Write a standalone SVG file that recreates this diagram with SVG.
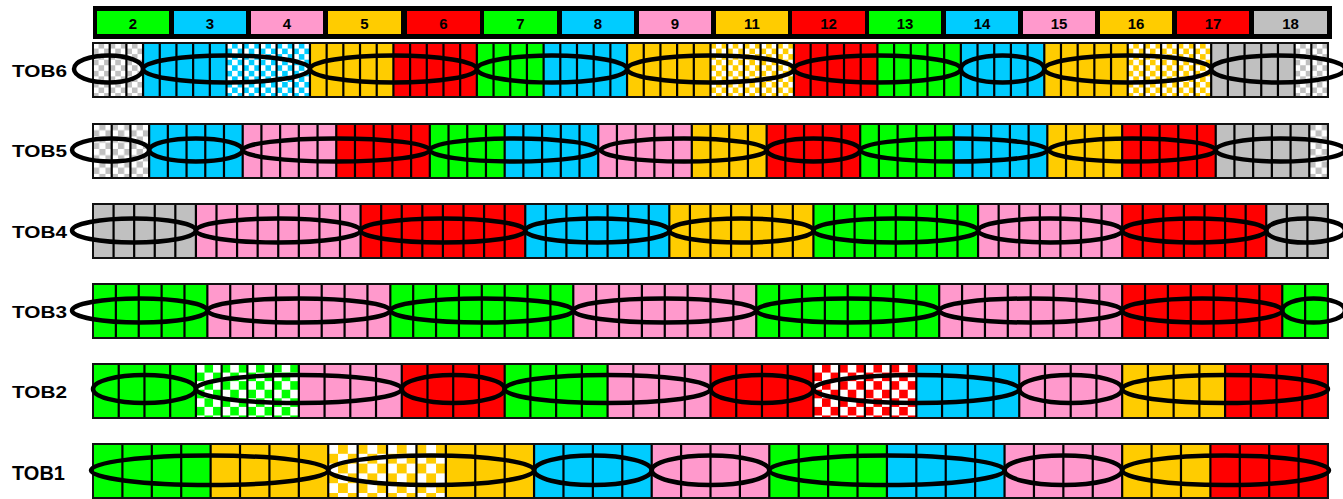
<svg xmlns="http://www.w3.org/2000/svg" width="1343" height="499" viewBox="0 0 1343 499">
<style>
.g{fill:#00ff00}.b{fill:#00ccff}.p{fill:#ff99cc}.y{fill:#ffcc00}.r{fill:#ff0000}.k{fill:#c0c0c0}
.num{font-family:"Liberation Sans",Arial,sans-serif;font-weight:bold;font-size:15px;text-anchor:middle;fill:#000}
.lbl{font-family:"Liberation Sans",Arial,sans-serif;font-weight:bold;font-size:17px;fill:#000}
.cells{stroke:#000;stroke-width:54;fill:none}
.frame{fill:none;stroke:#111;stroke-width:2}
.el{fill:none;stroke:#000;stroke-width:4.5}
.lb{stroke:#000;stroke-width:1.5}
</style>
<defs>
<pattern id="ckK6" patternUnits="userSpaceOnUse" x="93" y="43" width="11.126" height="11.126"><rect width="11.126" height="11.126" fill="#c0c0c0"/><rect width="5.563" height="5.563" fill="#fff"/><rect x="5.563" y="5.563" width="5.563" height="5.563" fill="#fff"/></pattern>
<pattern id="ckB6" patternUnits="userSpaceOnUse" x="93" y="43" width="11.126" height="11.126"><rect width="11.126" height="11.126" fill="#00ccff"/><rect width="5.563" height="5.563" fill="#fff"/><rect x="5.563" y="5.563" width="5.563" height="5.563" fill="#fff"/></pattern>
<pattern id="ckY6" patternUnits="userSpaceOnUse" x="93" y="43" width="11.126" height="11.126"><rect width="11.126" height="11.126" fill="#ffcc00"/><rect width="5.563" height="5.563" fill="#fff"/><rect x="5.563" y="5.563" width="5.563" height="5.563" fill="#fff"/></pattern>
<pattern id="ckK5" patternUnits="userSpaceOnUse" x="93" y="124" width="12.475" height="12.475"><rect width="12.475" height="12.475" fill="#c0c0c0"/><rect width="6.237" height="6.237" fill="#fff"/><rect x="6.237" y="6.237" width="6.237" height="6.237" fill="#fff"/></pattern>
<pattern id="ckG2" patternUnits="userSpaceOnUse" x="93" y="364" width="17.153" height="17.153"><rect width="17.153" height="17.153" fill="#00ff00"/><rect width="8.576" height="8.576" fill="#fff"/><rect x="8.576" y="8.576" width="8.576" height="8.576" fill="#fff"/></pattern>
<pattern id="ckR2" patternUnits="userSpaceOnUse" x="93" y="364" width="17.153" height="17.153"><rect width="17.153" height="17.153" fill="#ff0000"/><rect width="8.576" height="8.576" fill="#fff"/><rect x="8.576" y="8.576" width="8.576" height="8.576" fill="#fff"/></pattern>
<pattern id="ckY1" patternUnits="userSpaceOnUse" x="93" y="444" width="19.603" height="19.603"><rect width="19.603" height="19.603" fill="#ffcc00"/><rect width="9.802" height="9.802" fill="#fff"/><rect x="9.802" y="9.802" width="9.802" height="9.802" fill="#fff"/></pattern>
</defs>
<rect width="1343" height="499" fill="#fff"/>

<g id="legend">
<rect x="93" y="6" width="1239" height="33" fill="#000"/>
<rect class="g" x="97" y="11" width="72" height="23"/><text class="num" x="133" y="28.5">2</text>
<rect class="b" x="174" y="11" width="72" height="23"/><text class="num" x="210" y="28.5">3</text>
<rect class="p" x="251" y="11" width="72" height="23"/><text class="num" x="287" y="28.5">4</text>
<rect class="y" x="328" y="11" width="73" height="23"/><text class="num" x="364.5" y="28.5">5</text>
<rect class="r" x="407" y="11" width="73" height="23"/><text class="num" x="443.5" y="28.5">6</text>
<rect class="g" x="484" y="11" width="73" height="23"/><text class="num" x="520.5" y="28.5">7</text>
<rect class="b" x="562" y="11" width="72" height="23"/><text class="num" x="598" y="28.5">8</text>
<rect class="p" x="639" y="11" width="72" height="23"/><text class="num" x="675" y="28.5">9</text>
<rect class="y" x="716" y="11" width="72" height="23"/><text class="num" x="752" y="28.5">11</text>
<rect class="r" x="792" y="11" width="73" height="23"/><text class="num" x="828.5" y="28.5">12</text>
<rect class="g" x="869" y="11" width="72" height="23"/><text class="num" x="905" y="28.5">13</text>
<rect class="b" x="946" y="11" width="72" height="23"/><text class="num" x="982" y="28.5">14</text>
<rect class="p" x="1023" y="11" width="72" height="23"/><text class="num" x="1059" y="28.5">15</text>
<rect class="y" x="1100" y="11" width="72" height="23"/><text class="num" x="1136" y="28.5">16</text>
<rect class="r" x="1177" y="11" width="72" height="23"/><text class="num" x="1213" y="28.5">17</text>
<rect class="k" x="1254" y="11" width="73" height="23"/><text class="num" x="1290.5" y="28.5">18</text>
</g>

<g id="tob6">
<text class="lbl" x="12" y="77" textLength="55" lengthAdjust="spacingAndGlyphs">TOB6</text>
<rect fill="url(#ckK6)" x="93" y="43" width="50.07" height="54"/>
<rect class="b" x="143.07" y="43" width="83.44" height="54"/>
<rect fill="url(#ckB6)" x="226.51" y="43" width="83.45" height="54"/>
<rect class="y" x="309.96" y="43" width="83.45" height="54"/>
<rect class="r" x="393.41" y="43" width="83.44" height="54"/>
<rect class="g" x="476.85" y="43" width="66.76" height="54"/>
<rect class="b" x="543.61" y="43" width="83.44" height="54"/>
<rect class="y" x="627.05" y="43" width="83.45" height="54"/>
<rect fill="url(#ckY6)" x="710.5" y="43" width="83.45" height="54"/>
<rect class="r" x="793.95" y="43" width="83.44" height="54"/>
<rect class="g" x="877.39" y="43" width="83.45" height="54"/>
<rect class="b" x="960.84" y="43" width="83.44" height="54"/>
<rect class="y" x="1044.28" y="43" width="83.45" height="54"/>
<rect fill="url(#ckY6)" x="1127.73" y="43" width="83.45" height="54"/>
<rect class="k" x="1211.18" y="43" width="83.44" height="54"/>
<rect fill="url(#ckK6)" x="1294.62" y="43" width="33.38" height="54"/>
<line class="cells" x1="108.59" y1="70" x2="1327" y2="70" stroke-dasharray="2.2 14.4892"/>
<rect class="frame" x="93" y="43" width="1235" height="54"/>
<g id="tob6-ellipses">
<ellipse class="el" cx="108.5" cy="69" rx="34.5" ry="13.5"/>
<ellipse class="el" cx="226.5" cy="69" rx="83.45" ry="13.5"/>
<ellipse class="el" cx="393.4" cy="69" rx="83.45" ry="13.5"/>
<ellipse class="el" cx="551.95" cy="69" rx="75.1" ry="13.5"/>
<ellipse class="el" cx="710.5" cy="69" rx="83.45" ry="13.5"/>
<ellipse class="el" cx="877.4" cy="69" rx="83.45" ry="13.5"/>
<ellipse class="el" cx="1002.56" cy="69" rx="41.72" ry="13.5"/>
<ellipse class="el" cx="1127.73" cy="69" rx="83.45" ry="13.5"/>
<ellipse class="el" cx="1278.1" cy="69" rx="66.9" ry="13.5"/>
</g>
</g>

<g id="tob5">
<text class="lbl" x="12" y="157" textLength="55" lengthAdjust="spacingAndGlyphs">TOB5</text>
<rect fill="url(#ckK5)" x="93" y="124" width="56.14" height="54"/>
<rect class="b" x="149.14" y="124" width="93.56" height="54"/>
<rect class="p" x="242.7" y="124" width="93.56" height="54"/>
<rect class="r" x="336.26" y="124" width="93.56" height="54"/>
<rect class="g" x="429.82" y="124" width="74.85" height="54"/>
<rect class="b" x="504.67" y="124" width="93.56" height="54"/>
<rect class="p" x="598.23" y="124" width="93.56" height="54"/>
<rect class="y" x="691.79" y="124" width="74.85" height="54"/>
<rect class="r" x="766.64" y="124" width="93.56" height="54"/>
<rect class="g" x="860.2" y="124" width="93.56" height="54"/>
<rect class="b" x="953.76" y="124" width="93.56" height="54"/>
<rect class="y" x="1047.32" y="124" width="74.85" height="54"/>
<rect class="r" x="1122.17" y="124" width="93.56" height="54"/>
<rect class="k" x="1215.73" y="124" width="93.56" height="54"/>
<rect fill="url(#ckK5)" x="1309.29" y="124" width="18.71" height="54"/>
<line class="cells" x1="110.61" y1="151" x2="1327" y2="151" stroke-dasharray="2.2 16.5121"/>
<rect class="frame" x="93" y="124" width="1235" height="54"/>
<g id="tob5-ellipses">
<ellipse class="el" cx="110.57" cy="150" rx="38.57" ry="11.5"/>
<ellipse class="el" cx="195.92" cy="150" rx="46.78" ry="11.5"/>
<ellipse class="el" cx="336.26" cy="150" rx="93.56" ry="11.5"/>
<ellipse class="el" cx="514.03" cy="150" rx="84.2" ry="11.5"/>
<ellipse class="el" cx="683.82" cy="150" rx="82.82" ry="11.5"/>
<ellipse class="el" cx="813.42" cy="150" rx="46.78" ry="11.5"/>
<ellipse class="el" cx="953.76" cy="150" rx="93.56" ry="11.5"/>
<ellipse class="el" cx="1132.37" cy="150" rx="83.37" ry="11.5"/>
<ellipse class="el" cx="1280.37" cy="150" rx="64.64" ry="11.5"/>
</g>
</g>

<g id="tob4">
<text class="lbl" x="12" y="238" textLength="55" lengthAdjust="spacingAndGlyphs">TOB4</text>
<rect class="k" x="93" y="204" width="102.92" height="54"/>
<rect class="p" x="195.92" y="204" width="164.66" height="54"/>
<rect class="r" x="360.58" y="204" width="164.67" height="54"/>
<rect class="b" x="525.25" y="204" width="144.08" height="54"/>
<rect class="y" x="669.33" y="204" width="144.09" height="54"/>
<rect class="g" x="813.42" y="204" width="164.66" height="54"/>
<rect class="p" x="978.08" y="204" width="144.09" height="54"/>
<rect class="r" x="1122.17" y="204" width="144.08" height="54"/>
<rect class="k" x="1266.25" y="204" width="61.75" height="54"/>
<line class="cells" x1="112.48" y1="231" x2="1327" y2="231" stroke-dasharray="2.2 18.3833"/>
<rect class="frame" x="93" y="204" width="1235" height="54"/>
<g id="tob4-ellipses">
<ellipse class="el" cx="133.96" cy="230.5" rx="61.96" ry="12"/>
<ellipse class="el" cx="278.25" cy="230.5" rx="82.33" ry="12"/>
<ellipse class="el" cx="442.92" cy="230.5" rx="82.33" ry="12"/>
<ellipse class="el" cx="597.29" cy="230.5" rx="72.04" ry="12"/>
<ellipse class="el" cx="741.38" cy="230.5" rx="72.04" ry="12"/>
<ellipse class="el" cx="895.75" cy="230.5" rx="82.33" ry="12"/>
<ellipse class="el" cx="1050.13" cy="230.5" rx="72.04" ry="12"/>
<ellipse class="el" cx="1194.21" cy="230.5" rx="72.04" ry="12"/>
<ellipse class="el" cx="1305.63" cy="230.5" rx="39.38" ry="12"/>
</g>
</g>

<g id="tob3">
<text class="lbl" x="12" y="318" textLength="55" lengthAdjust="spacingAndGlyphs">TOB3</text>
<rect class="g" x="93" y="284" width="114.35" height="54"/>
<rect class="p" x="207.35" y="284" width="182.96" height="54"/>
<rect class="g" x="390.31" y="284" width="182.97" height="54"/>
<rect class="p" x="573.28" y="284" width="182.96" height="54"/>
<rect class="g" x="756.24" y="284" width="182.96" height="54"/>
<rect class="p" x="939.2" y="284" width="182.97" height="54"/>
<rect class="r" x="1122.17" y="284" width="160.09" height="54"/>
<rect class="g" x="1282.26" y="284" width="45.74" height="54"/>
<line class="cells" x1="114.77" y1="311" x2="1327" y2="311" stroke-dasharray="2.2 20.6704"/>
<rect class="frame" x="93" y="284" width="1235" height="54"/>
<g id="tob3-ellipses">
<ellipse class="el" cx="139.68" cy="310.5" rx="67.68" ry="12"/>
<ellipse class="el" cx="298.83" cy="310.5" rx="91.48" ry="12"/>
<ellipse class="el" cx="481.8" cy="310.5" rx="91.48" ry="12"/>
<ellipse class="el" cx="664.76" cy="310.5" rx="91.48" ry="12"/>
<ellipse class="el" cx="847.72" cy="310.5" rx="91.48" ry="12"/>
<ellipse class="el" cx="1030.69" cy="310.5" rx="91.48" ry="12"/>
<ellipse class="el" cx="1202.22" cy="310.5" rx="80.05" ry="12"/>
<ellipse class="el" cx="1313.63" cy="310.5" rx="31.37" ry="12"/>
</g>
</g>

<g id="tob2">
<text class="lbl" x="12" y="398" textLength="55" lengthAdjust="spacingAndGlyphs">TOB2</text>
<rect class="g" x="93" y="364" width="102.92" height="54"/>
<rect fill="url(#ckG2)" x="195.92" y="364" width="102.91" height="54"/>
<rect class="p" x="298.83" y="364" width="102.92" height="54"/>
<rect class="r" x="401.75" y="364" width="102.92" height="54"/>
<rect class="g" x="504.67" y="364" width="102.91" height="54"/>
<rect class="p" x="607.58" y="364" width="102.92" height="54"/>
<rect class="r" x="710.5" y="364" width="102.92" height="54"/>
<rect fill="url(#ckR2)" x="813.42" y="364" width="102.91" height="54"/>
<rect class="b" x="916.33" y="364" width="102.92" height="54"/>
<rect class="p" x="1019.25" y="364" width="102.92" height="54"/>
<rect class="y" x="1122.17" y="364" width="102.91" height="54"/>
<rect class="r" x="1225.08" y="364" width="102.92" height="54"/>
<line class="cells" x1="117.63" y1="391" x2="1327" y2="391" stroke-dasharray="2.2 23.5292"/>
<rect class="frame" x="93" y="364" width="1235" height="54"/>
<g id="tob2-ellipses">
<ellipse class="el" cx="144.46" cy="389" rx="51.46" ry="14"/>
<ellipse class="el" cx="298.83" cy="389" rx="102.92" ry="14"/>
<ellipse class="el" cx="453.21" cy="389" rx="51.46" ry="14"/>
<ellipse class="el" cx="607.58" cy="389" rx="102.92" ry="14"/>
<ellipse class="el" cx="761.96" cy="389" rx="51.46" ry="14"/>
<ellipse class="el" cx="916.33" cy="389" rx="102.92" ry="14"/>
<ellipse class="el" cx="1070.71" cy="389" rx="51.46" ry="14"/>
<ellipse class="el" cx="1225.08" cy="389" rx="102.92" ry="14"/>
</g>
</g>

<g id="tob1">
<text class="lbl" x="12" y="480" textLength="53" lengthAdjust="spacingAndGlyphs" style="font-size:20px">TOB1</text>
<rect class="g" x="93" y="444" width="117.62" height="54"/>
<rect class="y" x="210.62" y="444" width="117.62" height="54"/>
<rect fill="url(#ckY1)" x="328.24" y="444" width="117.62" height="54"/>
<rect class="y" x="445.86" y="444" width="88.21" height="54"/>
<rect class="b" x="534.07" y="444" width="117.62" height="54"/>
<rect class="p" x="651.69" y="444" width="117.62" height="54"/>
<rect class="g" x="769.31" y="444" width="117.62" height="54"/>
<rect class="b" x="886.93" y="444" width="117.62" height="54"/>
<rect class="p" x="1004.55" y="444" width="117.62" height="54"/>
<rect class="y" x="1122.17" y="444" width="88.21" height="54"/>
<rect class="r" x="1210.38" y="444" width="117.62" height="54"/>
<line class="cells" x1="121.3" y1="471" x2="1327" y2="471" stroke-dasharray="2.2 27.2048"/>
<rect class="frame" x="93" y="444" width="1235" height="54"/>
<g id="tob1-ellipses">
<ellipse class="el" cx="209.62" cy="470.3" rx="118.62" ry="14.75"/>
<ellipse class="el" cx="431.16" cy="470.3" rx="102.92" ry="14.75"/>
<ellipse class="el" cx="592.88" cy="470.3" rx="58.81" ry="14.75"/>
<ellipse class="el" cx="710.5" cy="470.3" rx="58.81" ry="14.75"/>
<ellipse class="el" cx="886.93" cy="470.3" rx="117.62" ry="14.75"/>
<ellipse class="el" cx="1063.36" cy="470.3" rx="58.81" ry="14.75"/>
<ellipse class="el" cx="1225.59" cy="470.3" rx="103.42" ry="14.75"/>
</g>
</g>
</svg>
